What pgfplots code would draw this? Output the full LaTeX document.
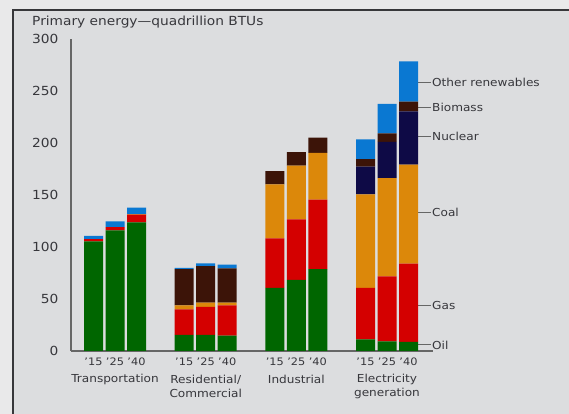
\documentclass[border=0pt]{standalone}
\usepackage{pgfplots}
\pgfplotsset{compat=1.18}
\usepackage{pgfplotstable}
\usepackage{fontspec}
\setmainfont{DejaVu Sans}[FakeStretch=1.1]
\definecolor{outerbg}{RGB}{233,233,234}
\definecolor{innerbg}{RGB}{220,221,223}
\definecolor{frame}{RGB}{55,55,58}
\definecolor{txt}{RGB}{55,55,60}
\definecolor{cOil}{RGB}{0,102,0}
\definecolor{cGas}{RGB}{212,0,0}
\definecolor{cCoal}{RGB}{220,136,10}
\definecolor{cNuc}{RGB}{14,10,70}
\definecolor{cBio}{RGB}{60,20,8}
\definecolor{cOther}{RGB}{10,120,210}
\pgfplotstableread{
x oil gas coal nuclear biomass other
93.5 105.5 2 0 0 0 3.2
115 116 3.2 0 0 0 5.5
136.5 123.7 7.5 0.5 0 0 6.1
184.2 15.4 24.6 3.9 0 34.9 1.2
205.7 15.4 27 4 0 35.3 2.6
227.2 14.7 29.2 2.5 0 33.1 3.5
274.8 60.6 47.8 51.9 0 12.7 0
296.3 68.3 58.3 51.6 0 13.1 0
317.8 78.8 66.7 44.9 0 14.7 0
365.5 11.2 49.4 90.1 26.5 7.4 18.9
387 9.3 62.5 94.5 34.7 8.3 28.2
408.5 8.7 75.2 95.2 51.4 9.2 38.8
}\energy
\tikzset{lab/.style={text=txt, font=\fontsize{11}{13.5}\selectfont},
  yr/.style={text=txt, font=\fontsize{10.3}{12}\selectfont},
  ser/.style={anchor=west, inner sep=1pt, text=txt, font=\fontsize{11}{13}\selectfont},
  tk/.style={gray!80!black, line width=1pt}}
\begin{document}
\begin{tikzpicture}
\path[use as bounding box] (0,0) rectangle (569pt,414pt);
\fill[outerbg] (0,0) rectangle (569pt,414pt);
\filldraw[fill=innerbg, draw=frame, line width=2pt] (13pt,-10pt) rectangle (590pt,404pt);
\begin{axis}[
  at={(71pt,63pt)}, anchor=south west,
  scale only axis, width=362pt, height=312pt,
  xmin=71, xmax=433, ymin=0, ymax=300,
  axis x line=bottom, axis y line=left,
  axis line style={-, draw=gray!80!black, line width=1.2pt},
  xtick=\empty,
  ytick={0,50,100,150,200,250,300},
  major tick length=0pt,
  yticklabel style={font=\fontsize{12.5}{14}\selectfont, text=txt, xshift=-9pt},
  /pgf/number format/assume math mode=true,
  ybar stacked, bar width=19,
  clip=false,
  every axis plot/.append style={draw=none},
]
\addplot[fill=cOil] table[x=x,y=oil]{\energy};
\addplot[fill=cGas] table[x=x,y=gas]{\energy};
\addplot[fill=cCoal] table[x=x,y=coal]{\energy};
\addplot[fill=cNuc] table[x=x,y=nuclear]{\energy};
\addplot[fill=cBio] table[x=x,y=biomass]{\energy};
\addplot[fill=cOther] table[x=x,y=other]{\energy};
% title
\node[anchor=west, inner sep=0pt, text=txt, font=\fontsize{12.5}{14}\selectfont] at (axis cs:32,316.5) {Primary energy—quadrillion BTUs};
% year labels
\node[yr] at (axis cs:93.5,-10.8) {’15};
\node[yr] at (axis cs:115,-10.8) {’25};
\node[yr] at (axis cs:136.5,-10.8) {’40};
\node[yr] at (axis cs:184.2,-10.8) {’15};
\node[yr] at (axis cs:205.7,-10.8) {’25};
\node[yr] at (axis cs:227.2,-10.8) {’40};
\node[yr] at (axis cs:274.8,-10.8) {’15};
\node[yr] at (axis cs:296.3,-10.8) {’25};
\node[yr] at (axis cs:317.8,-10.8) {’40};
\node[yr] at (axis cs:365.5,-10.8) {’15};
\node[yr] at (axis cs:387,-10.8) {’25};
\node[yr] at (axis cs:408.5,-10.8) {’40};
\node[lab] at (axis cs:115,-27) {Transportation};
\node[lab, align=center] at (axis cs:205.7,-34) {Residential/\\Commercial};
\node[lab] at (axis cs:296.3,-27) {Industrial};
\node[lab, align=center] at (axis cs:387,-34) {Electricity\\generation};
% series labels
\draw[tk] (axis cs:418,258.4) -- (axis cs:431,258.4);
\node[ser] at (axis cs:431,258.4) {Other renewables};
\draw[tk] (axis cs:418,234) -- (axis cs:431,234);
\node[ser] at (axis cs:431,234) {Biomass};
\draw[tk] (axis cs:418,206.4) -- (axis cs:431,206.4);
\node[ser] at (axis cs:431,206.4) {Nuclear};
\draw[tk] (axis cs:418,133) -- (axis cs:431,133);
\node[ser] at (axis cs:431,133) {Coal};
\draw[tk] (axis cs:418,43.3) -- (axis cs:431,43.3);
\node[ser] at (axis cs:431,43.3) {Gas};
\draw[tk] (axis cs:418,5.8) -- (axis cs:431,5.8);
\node[ser] at (axis cs:431,5.8) {Oil};
\end{axis}
\end{tikzpicture}
\end{document}
